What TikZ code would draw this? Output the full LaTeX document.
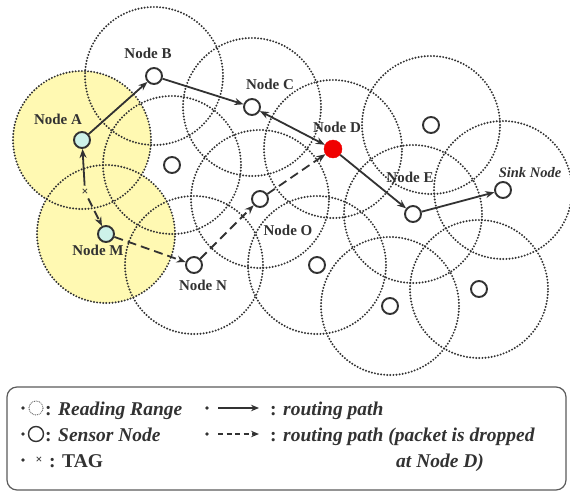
\documentclass[tikz,border=0pt]{standalone}
\usepackage{fontspec}
\setmainfont{Liberation Serif}
\usetikzlibrary{arrows.meta}

\definecolor{rangefill}{RGB}{255,249,178}
\definecolor{tagged}{RGB}{205,242,234}
\definecolor{ink}{RGB}{50,50,50}
\definecolor{dropred}{RGB}{240,0,0}

\tikzset{
  readrange/.style={draw=ink, line width=2.2pt, line cap=round, dash pattern=on 0pt off 3.1pt},
  sensor/.style={circle, draw=ink, line width=1.9pt, fill=white, minimum size=16pt, inner sep=0pt},
  tagnode/.style={sensor, fill=tagged},
  dropnode/.style={circle, fill=dropred, draw=dropred, minimum size=18pt, inner sep=0pt},
  lbl/.style={font=\bfseries\fontsize{15}{17}\selectfont, text=ink, inner sep=0pt},
  route/.style={draw=ink, line width=1.8pt, -{Stealth[length=9pt,width=7pt]}},
  droute/.style={route, dash pattern=on 9pt off 5pt},
  legtxt/.style={font=\bfseries\fontsize{19.5}{21}\selectfont, text=ink, inner sep=0pt, anchor=base west},
  bullet/.style={fill=ink},
}

\begin{document}
\begin{tikzpicture}[x=1pt,y=-1pt]
\useasboundingbox (0,0) rectangle (570,493);

% node positions
\coordinate (pA) at (82,140);
\coordinate (pB) at (154,76);
\coordinate (pC) at (252,107);
\coordinate (pD) at (333,149);
\coordinate (pE) at (413,214);
\coordinate (pS) at (503,190);
\coordinate (pM) at (106,234);
\coordinate (pN) at (194,265);
\coordinate (pO) at (260,199);
\coordinate (p1) at (172,165);
\coordinate (p2) at (431,125);
\coordinate (p3) at (317,265);
\coordinate (p4) at (390,306);
\coordinate (p5) at (479,289);

% highlighted reading ranges
\fill[rangefill] (pA) circle[radius=69pt];
\fill[rangefill] (pM) circle[radius=69pt];

% reading ranges of all sensors
\foreach \p in {pA,pB,pC,pD,pE,pS,pM,pN,pO,p1,p2,p3,p4,p5}
  \draw[readrange] (\p) circle[radius=69pt];

% sensor nodes
\node[tagnode] (A) at (pA) {};
\node[sensor] (B) at (pB) {};
\node[sensor] (C) at (pC) {};
\node[dropnode] (D) at (pD) {};
\node[sensor] (E) at (pE) {};
\node[sensor] (sink) at (pS) {};
\node[tagnode] (M) at (pM) {};
\node[sensor] (N) at (pN) {};
\node[sensor] (O) at (pO) {};
\node[sensor] (s1) at (p1) {};
\node[sensor] (s2) at (p2) {};
\node[sensor] (s3) at (p3) {};
\node[sensor] (s4) at (p4) {};
\node[sensor] (s5) at (p5) {};

% tag
\node[font=\bfseries\fontsize{12}{12}\selectfont, text=ink, inner sep=3pt] (tag) at (85,192) {×};

% labels
\node[lbl] (lA) at (58,119) {Node A};
\node[lbl] (lB) at (148,53) {Node B};
\node[lbl] (lC) at (270,84) {Node C};
\node[lbl] (lD) at (337,127) {Node D};
\node[lbl] (lE) at (410,177) {Node E};
\node[lbl, font=\bfseries\itshape\fontsize{14.5}{16}\selectfont] (lS) at (530,173) {Sink Node};
\node[lbl] (lM) at (98,250) {Node M};
\node[lbl] (lN) at (203,285) {Node N};
\node[lbl] (lO) at (288,230) {Node O};

% routing paths
\draw[route] (tag) -- (A);
\draw[route] (A) -- (B);
\draw[route] (B) -- (C);
\draw[route, {Stealth[length=9pt,width=7pt]}-{Stealth[length=9pt,width=7pt]}] (C) -- (D);
\draw[route] (D) -- (E);
\draw[route] (E) -- (sink);

% dropped routing path
\draw[droute] (tag) -- (M);
\draw[droute] (M) -- (N);
\draw[droute] (N) -- (O);
\draw[droute] (O) -- (D);

% legend
\draw[draw=ink!80, line width=1.2pt, rounded corners=10pt] (7,387) rectangle (566,490);

\fill[bullet] (23,408) circle[radius=1.8pt];
\draw[ink!80, line width=1.2pt, line cap=round, dash pattern=on 0pt off 1.8pt] (36,408) circle[radius=7pt];
\node[legtxt] (leg1) at (45,415) {: \textit{Reading Range}};

\fill[bullet] (23,434) circle[radius=1.8pt];
\draw[ink, line width=1.4pt] (36,434) circle[radius=7.5pt];
\node[legtxt] (leg2) at (45,441) {: \textit{Sensor Node}};

\fill[bullet] (23,460) circle[radius=1.8pt];
\node[font=\bfseries\fontsize{12}{12}\selectfont, text=ink, inner sep=0pt] (legtag) at (39,460) {×};
\node[legtxt] (leg3) at (49,467) {: TAG};

\fill[bullet] (207,408) circle[radius=1.8pt];
\coordinate (ar1s) at (218,408);
\coordinate (ar1e) at (259,408);
\draw[draw=ink, line width=1.5pt, -{Stealth[length=8pt,width=6.5pt]}] (ar1s) -- (ar1e);
\node[legtxt] (leg4) at (270,415) {: \textit{routing path}};

\fill[bullet] (207,434) circle[radius=1.8pt];
\coordinate (ar2s) at (218,434);
\coordinate (ar2e) at (259,434);
\draw[draw=ink, line width=1.5pt, dash pattern=on 5pt off 3.5pt, -{Stealth[length=8pt,width=6.5pt]}] (ar2s) -- (ar2e);
\node[legtxt] (leg5) at (270,441) {: \textit{routing path (packet is dropped}};
\node[legtxt] (leg6) at (396,467) {\textit{at Node D)}};
\end{tikzpicture}
\end{document}
